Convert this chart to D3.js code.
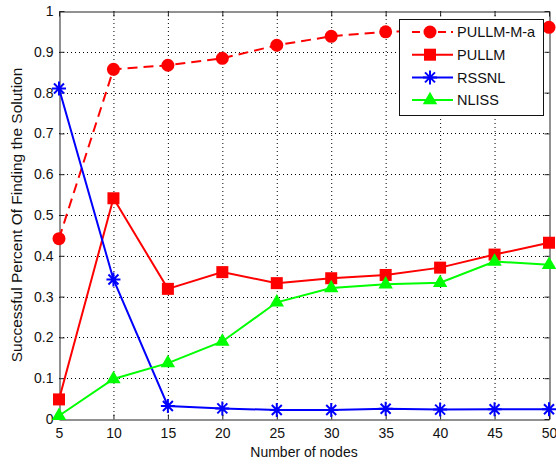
<!DOCTYPE html>
<html><head><meta charset="utf-8">
<script src="https://cdn.jsdelivr.net/npm/d3@7"></script>
<style>
body{margin:0;background:#fff;}
text{font-family:"Liberation Sans",Arial,sans-serif;}
</style></head>
<body><svg id="c" width="556" height="466"></svg>
<script>
const nodes = [5,10,15,20,25,30,35,40,45,50];
const pullmMa = [0.442,0.857,0.867,0.884,0.916,0.938,0.949,0.953,0.956,0.960];
const pullm   = [0.048,0.541,0.319,0.360,0.333,0.345,0.353,0.371,0.403,0.432];
const rssnl   = [0.810,0.342,0.032,0.026,0.022,0.022,0.025,0.023,0.024,0.024];
const nliss   = [0.008,0.098,0.137,0.190,0.286,0.321,0.330,0.334,0.386,0.378];
const seriesNames = ["PULLM-M-a","PULLM","RSSNL","NLISS"];
const yTicks = [0,0.1,0.2,0.3,0.4,0.5,0.6,0.7,0.8,0.9,1];

const series = [
  {name:seriesNames[0], values:pullmMa, color:"#ff0000", dash:"10,6", marker:"circle"},
  {name:seriesNames[1], values:pullm,   color:"#ff0000", dash:null,   marker:"square"},
  {name:seriesNames[2], values:rssnl,   color:"#0000ff", dash:null,   marker:"star"},
  {name:seriesNames[3], values:nliss,   color:"#00ff00", dash:null,   marker:"triangle"}
];

const svg = d3.select("#c");
const L=59, R=549, T=11, B=419;
const x = d3.scaleLinear().domain([5,50]).range([L,R]);
const y = d3.scaleLinear().domain([0,1]).range([B,T]);
const axisCol="#222";

// grid
const g = svg.append("g");
g.selectAll("line.gx").data(nodes.slice(1,-1)).join("line")
  .attr("x1",d=>x(d)+0.5).attr("x2",d=>x(d)+0.5).attr("y1",T).attr("y2",B)
  .attr("stroke","#000").attr("stroke-width",1).attr("stroke-dasharray","1,3");
g.selectAll("line.gy").data(yTicks.slice(1,-1)).join("line")
  .attr("y1",d=>Math.round(y(d))+0.5).attr("y2",d=>Math.round(y(d))+0.5).attr("x1",L).attr("x2",R)
  .attr("stroke","#000").attr("stroke-width",1).attr("stroke-dasharray","1,3");

// axes
const tk = 5;
const axB = svg.append("g").attr("transform",`translate(0,${B+0.5})`)
  .call(d3.axisBottom(x).tickValues(nodes).tickSizeInner(-tk).tickSizeOuter(0).tickPadding(9).tickFormat(d3.format("d")));
const axT = svg.append("g").attr("transform",`translate(0,${T+0.5})`)
  .call(d3.axisTop(x).tickValues(nodes).tickSizeInner(-tk).tickSizeOuter(0).tickFormat(""));
const axL = svg.append("g").attr("transform",`translate(${L+0.5},0)`)
  .call(d3.axisLeft(y).tickValues(yTicks).tickSizeInner(-tk).tickSizeOuter(0).tickPadding(6).tickFormat(d=>d===0||d===1?d3.format("d")(d):d3.format(".1f")(d)));
const axR = svg.append("g").attr("transform",`translate(${R+0.5},0)`)
  .call(d3.axisRight(y).tickValues(yTicks).tickSizeInner(-tk).tickSizeOuter(0).tickFormat(""));
[axB,axT,axL,axR].forEach(a=>{
  a.selectAll("path").attr("stroke",axisCol);
  a.selectAll("line").attr("stroke",axisCol);
  a.selectAll("text").attr("font-size",14).attr("fill","#111").attr("font-family","Liberation Sans, Arial, sans-serif");
});

// series
const line = d3.line().x((d,i)=>x(nodes[i])).y(d=>y(d));
function drawMarker(sel, type, color){
  if(type==="circle"){
    sel.append("circle").attr("r",6.5).attr("fill",color);
  } else if(type==="square"){
    sel.append("rect").attr("x",-6).attr("y",-6).attr("width",12).attr("height",12).attr("fill",color);
  } else if(type==="triangle"){
    sel.append("path").attr("d",d3.symbol().type(d3.symbolTriangle).size(90)()).attr("fill",color);
  } else if(type==="star"){
    const r=7, r2=5;
    sel.append("path").attr("d",`M${-r},0L${r},0M0,${-r}L0,${r}M${-r2},${-r2}L${r2},${r2}M${-r2},${r2}L${r2},${-r2}`)
      .attr("stroke",color).attr("stroke-width",2).attr("fill","none");
  }
}
series.forEach(s=>{
  const sg = svg.append("g");
  sg.append("path").datum(s.values).attr("d",line).attr("fill","none")
    .attr("stroke",s.color).attr("stroke-width",2).attr("stroke-dasharray",s.dash);
  sg.selectAll("g.m").data(s.values).join("g")
    .attr("transform",(d,i)=>`translate(${x(nodes[i])},${y(d)})`)
    .each(function(){ drawMarker(d3.select(this), s.marker, s.color); });
});

// legend
const lg = svg.append("g");
lg.append("rect").attr("x",399.5).attr("y",19.5).attr("width",144).attr("height",96)
  .attr("fill","#fff").attr("stroke","#111").attr("stroke-width",1);
series.forEach((s,i)=>{
  const yy = 32 + i*22.7;
  lg.append("line").attr("x1",412).attr("x2",453).attr("y1",yy).attr("y2",yy)
    .attr("stroke",s.color).attr("stroke-width",2).attr("stroke-dasharray",s.dash?"8,5":null);
  const m = lg.append("g").attr("transform",`translate(430,${yy})`);
  drawMarker(m, s.marker, s.color);
  lg.append("text").attr("x",457).attr("y",yy).attr("dy","0.36em").attr("font-size",14.5).attr("fill","#111").text(s.name);
});

// axis labels
svg.append("text").attr("x",(L+R)/2).attr("y",457).attr("text-anchor","middle").attr("font-size",14).attr("fill","#111").text("Number of nodes");
svg.append("text").attr("transform",`translate(22,${(T+B)/2}) rotate(-90)`).attr("text-anchor","middle").attr("font-size",15.5).attr("fill","#111").text("Successful Percent Of Finding the Solution");
</script></body></html>
